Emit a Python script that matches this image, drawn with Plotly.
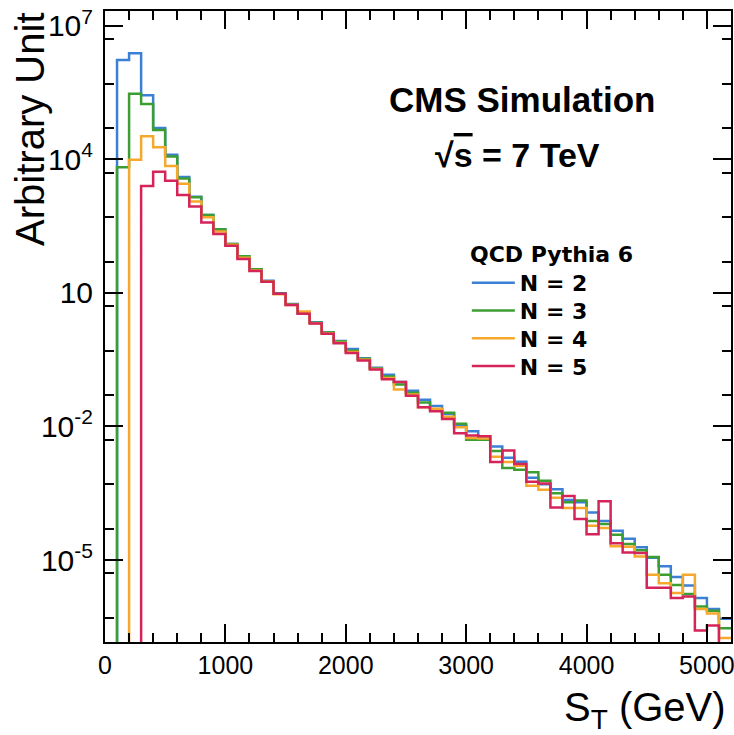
import plotly.graph_objects as go

# S_T histograms, 100 GeV bins from 0 to 5200 GeV
# values are log10(Arbitrary Unit) per bin, None = empty bin
bin_edges = list(range(0, 5300, 100))

n2_log10 = [None, 6.23, 6.38, 5.44, 4.70, 4.10, 3.60, 3.16, 2.75, 2.42,
            2.10, 1.81, 1.53, 1.27, 0.99, 0.75, 0.55, 0.34, 0.11, -0.08,
            -0.26, -0.47, -0.68, -0.84, -1.00, -1.20, -1.40, -1.54, -1.72, -1.98,
            -2.11, -2.22, -2.45, -2.70, -2.79, -3.15, -3.30, -3.41, -3.65, -3.70,
            -3.93, -4.12, -4.34, -4.52, -4.71, -4.95, -5.14, -5.38, -5.57, -5.85,
            -6.10, -6.32]
n3_log10 = [None, 3.82, 5.47, 5.24, 4.66, 4.06, 3.57, 3.15, 2.75, 2.43,
            2.10, 1.82, 1.53, 1.26, 0.98, 0.74, 0.55, 0.33, 0.11, -0.09,
            -0.30, -0.48, -0.70, -0.88, -1.06, -1.24, -1.46, -1.62, -1.69, -1.94,
            -2.30, -2.30, -2.55, -2.93, -2.97, -3.03, -3.22, -3.50, -3.70, -3.66,
            -4.12, -4.19, -4.43, -4.64, -4.78, -4.93, -5.33, -5.56, -5.76, -6.04,
            -6.14, -6.53]
n4_log10 = [None, None, 3.99, 4.52, 4.27, 3.85, 3.45, 3.05, 2.70, 2.38,
            2.08, 1.79, 1.50, 1.25, 0.97, 0.73, 0.58, 0.32, 0.09, -0.12,
            -0.33, -0.50, -0.71, -0.91, -1.17, -1.28, -1.57, -1.60, -1.78, -2.02,
            -2.26, -2.27, -2.68, -2.80, -2.88, -3.33, -3.42, -3.60, -3.83, -3.83,
            -4.23, -4.28, -4.69, -4.70, -4.92, -5.33, -5.52, -5.74, -5.33, -6.10,
            -6.20, -6.75]
n5_log10 = [None, None, None, 3.40, 3.72, 3.52, 3.20, 2.94, 2.58, 2.32,
            2.06, 1.76, 1.49, 1.25, 0.98, 0.73, 0.53, 0.31, 0.08, -0.13,
            -0.35, -0.52, -0.72, -0.94, -1.00, -1.31, -1.57, -1.66, -1.83, -2.15,
            -2.20, -2.22, -2.80, -2.54, -2.84, -3.24, -3.28, -3.82, -3.56, -4.08,
            -4.42, -3.68, -4.62, -4.83, -4.84, -5.62, -5.62, -5.85, -5.82, -6.58,
            -6.47, None]

series = [("N = 2", n2_log10, "#3b80d4"),
          ("N = 3", n3_log10, "#3c9e32"),
          ("N = 4", n4_log10, "#f6a82c"),
          ("N = 5", n5_log10, "#d4245a")]

labelled_decades = [7, 4, 1, -2, -5]
y_labels = ["10<sup>7</sup>", "10<sup>4</sup>", "10", "10<sup>-2</sup>", "10<sup>-5</sup>"]

font_name = "Liberation Sans"
legend_font = "DejaVu Sans"
y_range = [-6.84, 7.33]

fig = go.Figure()
legend_names = ["legend", "legend2", "legend3", "legend4"]
for (name, logs, color), lg in zip(series, legend_names):
    ys = [10 ** v if v is not None else 1e-12 for v in logs]
    fig.add_trace(go.Scatter(
        x=bin_edges, y=ys + [ys[-1]],
        mode="lines", line=dict(color=color, width=2.5, shape="hv"),
        name="<b>" + name + "</b>", legend=lg))

# one legend box per entry so the row spacing can follow the original
legend_rows_y = [0.569, 0.525, 0.481, 0.437]
for lg, ly in zip(legend_names, legend_rows_y):
    fig.update_layout({lg: dict(x=0.578, y=ly, xanchor="left", yanchor="middle",
                                bgcolor="rgba(0,0,0,0)", itemwidth=43,
                                font=dict(size=22, family=legend_font))})

other_decades = [10.0 ** k for k in range(-6, 8) if k not in labelled_decades]
y_minor = [5 * 10.0 ** k for k in range(-7, 7)]

fig.update_layout(
    width=734, height=735,
    margin=dict(l=105, r=3, t=11, b=93),
    plot_bgcolor="white", paper_bgcolor="white",
    font=dict(family=font_name, color="black"),
    showlegend=True,
    yaxis2=dict(type="log", range=y_range, overlaying="y", matches="y",
                showgrid=False, zeroline=False, showline=False,
                ticks="inside", ticklen=18, tickwidth=1.5, tickcolor="black",
                mirror="allticks", tickmode="array", tickvals=other_decades,
                showticklabels=False, automargin=False),
)

fig.update_xaxes(
    range=[0, 5200], showgrid=False, zeroline=False, automargin=False,
    showline=True, linecolor="black", linewidth=2, mirror="allticks",
    ticks="inside", ticklen=18, tickwidth=1.5, tickcolor="black",
    tickvals=[0, 1000, 2000, 3000, 4000, 5000], ticklabeloverflow="allow",
    tickfont=dict(size=25),
    minor=dict(tickvals=list(range(200, 5200, 200)), ticks="inside",
               ticklen=9, tickwidth=1.5, tickcolor="black"),
)
fig.update_yaxes(
    selector=dict(overlaying=None),
    type="log", range=y_range, showgrid=False, zeroline=False, automargin=False,
    showline=True, linecolor="black", linewidth=2, mirror="allticks",
    ticks="inside", ticklen=18, tickwidth=1.5, tickcolor="black",
    tickmode="array", tickvals=[10.0 ** k for k in labelled_decades],
    ticktext=y_labels, ticklabelstandoff=4, ticklabeloverflow="allow",
    tickfont=dict(size=30),
    minor=dict(tickvals=y_minor, ticks="inside",
               ticklen=9, tickwidth=1.5, tickcolor="black"),
)

fig.add_annotation(text="Arbitrary Unit", textangle=-90, showarrow=False,
                   xref="paper", yref="paper", x=-0.121, y=0.812,
                   xanchor="center", yanchor="middle", font=dict(size=40))
fig.add_annotation(text="S<sub>T</sub> (GeV)", showarrow=False,
                   xref="paper", yref="paper", x=0.9955, y=-0.107,
                   xanchor="right", yanchor="middle", font=dict(size=40))
fig.add_annotation(text="<b>CMS Simulation</b>", showarrow=False,
                   xref="paper", yref="paper", x=0.666, y=0.859,
                   xanchor="center", yanchor="middle", font=dict(size=35))
fig.add_annotation(text="<b>\u221a<span style='text-decoration:overline'>s</span> = 7 TeV</b>",
                   showarrow=False,
                   xref="paper", yref="paper", x=0.659, y=0.772,
                   xanchor="center", yanchor="middle", font=dict(size=34))
fig.add_annotation(text="<b>QCD Pythia 6</b>", showarrow=False,
                   xref="paper", yref="paper", x=0.580, y=0.614,
                   xanchor="left", yanchor="middle",
                   font=dict(size=22, family=legend_font))

# the page body has a default 8px margin; remove it so the figure sits at 0,0
fig.write_html("out.html", config={"displayModeBar": False},
               post_script="document.body.style.margin='0';")
